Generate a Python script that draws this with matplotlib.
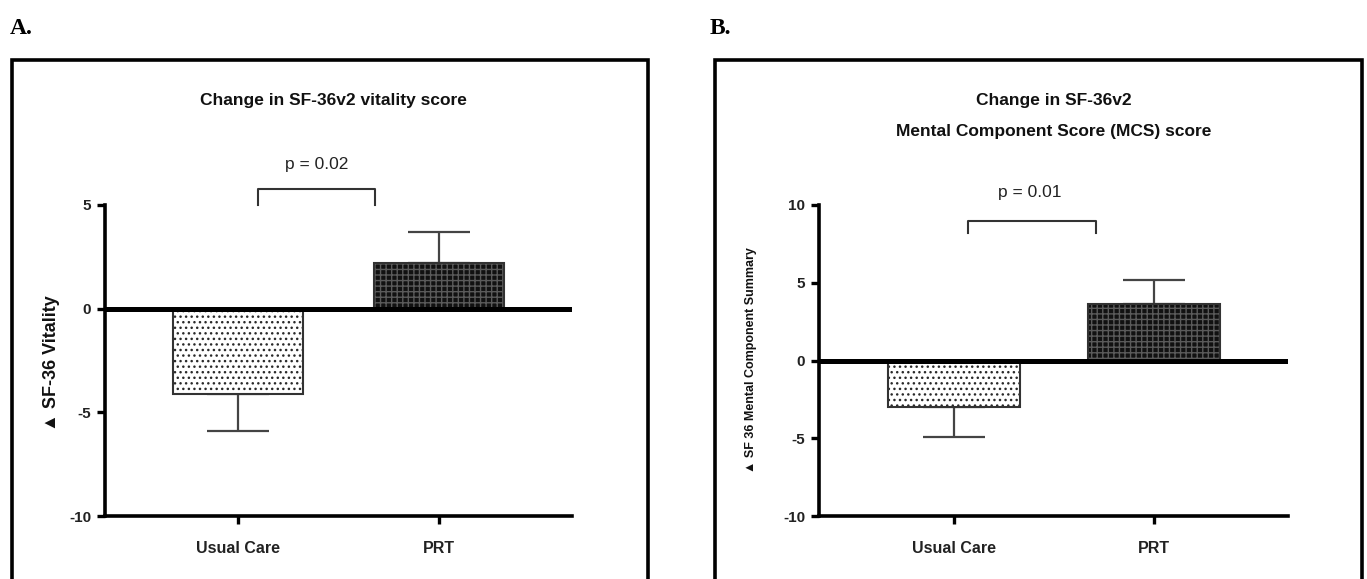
import matplotlib
matplotlib.use("Agg")
import matplotlib.pyplot as plt
from matplotlib.patches import Rectangle

# ---------------- data ----------------
groups = ["Usual Care", "PRT"]

vit_mean = [-4.1, 2.2]
vit_err = [1.8, 1.5]          # one-sided, away from zero
vit_p = "p = 0.02"

mcs_mean = [-3.0, 3.65]
mcs_err = [1.9, 1.5]
mcs_p = "p = 0.01"

title_A = "Change in SF-36v2 vitality score"
title_B1 = "Change in SF-36v2"
title_B2 = "Mental Component Score (MCS) score"
ylabel_A = "▲ SF-36 Vitality"
ylabel_B = "▲ SF 36 Mental Component Summary"
yticks_A = [-10, -5, 0, 5]
yticks_B = [-10, -5, 0, 5, 10]

# ---------------- layout ----------------
W, H = 1367, 579
fig = plt.figure(figsize=(W / 100, H / 100), dpi=100)
fig.patch.set_facecolor("white")
FONT = ["Liberation Sans", "DejaVu Sans"]


def fx(px):
    return px / W


def fy(py):
    return 1 - py / H


def frame(x0, x1, ytop):
    fig.add_artist(Rectangle((fx(x0), fy(ytop + 700)), fx(x1) - fx(x0),
                             fy(ytop) - fy(ytop + 700), fill=False,
                             lw=2.6, edgecolor="black",
                             transform=fig.transFigure))


def panel(rect, means, errs, yticks, ylim, xlim, width, ylabel, ylab_xy,
          ylab_size, bracket, ptext, ptext_xy):
    ax = fig.add_axes(rect)
    x = list(range(len(means)))
    # error bars (one-sided, drawn under the bars)
    for i, (m, e) in enumerate(zip(means, errs)):
        lo = e if m < 0 else 0
        hi = e if m >= 0 else 0
        ax.errorbar([x[i]], [m], yerr=[[lo], [hi]], fmt="none",
                    ecolor="#444444", elinewidth=1.6, capsize=22,
                    capthick=1.6, zorder=1)
    # Usual care: dotted ; PRT: dark checker
    ax.bar(x[0], means[0], width=width, color="white", edgecolor="#2a2a2a",
           hatch="...", lw=0, zorder=2)
    ax.bar(x[1], means[1], width=width, color="#111111", edgecolor="#5a5a5a",
           hatch="+++", lw=0, zorder=2)
    ax.bar(x, means, width=width, fill=False, edgecolor="#333333", lw=1.5,
           zorder=3)
    ax.axhline(0, color="black", lw=3.6, zorder=4)

    ax.set_xlim(*xlim)
    ax.set_ylim(*ylim)
    ax.set_yticks(yticks)
    ax.set_yticklabels([str(t) for t in yticks], fontweight="bold",
                       fontsize=11, family=FONT, color="#222222")
    ax.set_xticks(x)
    ax.set_xticklabels(groups, fontweight="bold", fontsize=11.5, family=FONT,
                       color="#222222")
    for s in ["top", "right"]:
        ax.spines[s].set_visible(False)
    for s in ["left", "bottom"]:
        ax.spines[s].set_linewidth(2.6)
    ax.tick_params(axis="y", direction="out", length=6, width=2.4, pad=4)
    ax.tick_params(axis="x", direction="out", length=6, width=2.4, pad=12)

    ax.set_ylabel(ylabel, fontweight="bold", fontsize=ylab_size, family=FONT,
                  color="#111111")
    ax.yaxis.set_label_coords(*ylab_xy)

    bx1, bx2, by_leg, by_top = bracket
    ax.plot([bx1, bx1, bx2, bx2], [by_leg, by_top, by_top, by_leg],
            color="#333333", lw=1.5, clip_on=False)
    ax.text(ptext_xy[0], ptext_xy[1], ptext, ha="center", va="center",
            fontsize=12.5, family=FONT, color="#222222", clip_on=False)
    return ax


# frames
frame(12, 648, 60)
frame(715, 1362, 60)

fig.text(fx(10), fy(28), "A.", ha="left", va="center", fontsize=17,
         fontweight="bold", family=["Liberation Serif", "DejaVu Serif"])
fig.text(fx(710), fy(28), "B.", ha="left", va="center", fontsize=17,
         fontweight="bold", family=["Liberation Serif", "DejaVu Serif"])

# Panel A
rectA = [fx(105), fy(516), fx(572) - fx(105), fy(205) - fy(516)]
panel(rectA, vit_mean, vit_err, yticks_A, (-10, 5), (-0.662, 1.662), 0.65,
      ylabel_A, (-0.096, 0.49), 13,
      (0.10, 0.68, 5.0, 5.78), vit_p, (0.39, 6.95))
fig.text(fx(333), fy(101), title_A, ha="center", va="center", fontsize=12.5,
         fontweight="bold", family=FONT, color="#111111")

# Panel B
rectB = [fx(819), fy(516), fx(1288) - fx(819), fy(205) - fy(516)]
panel(rectB, mcs_mean, mcs_err, yticks_B, (-10, 10), (-0.675, 1.67), 0.66,
      ylabel_B, (-0.132, 0.50), 9,
      (0.07, 0.71, 8.2, 9.0), mcs_p, (0.38, 10.8))
fig.text(fx(1054), fy(100), title_B1, ha="center", va="center", fontsize=12.5,
         fontweight="bold", family=FONT, color="#111111")
fig.text(fx(1054), fy(131), title_B2, ha="center", va="center", fontsize=12.5,
         fontweight="bold", family=FONT, color="#111111")

fig.savefig("out.png", dpi=100)
